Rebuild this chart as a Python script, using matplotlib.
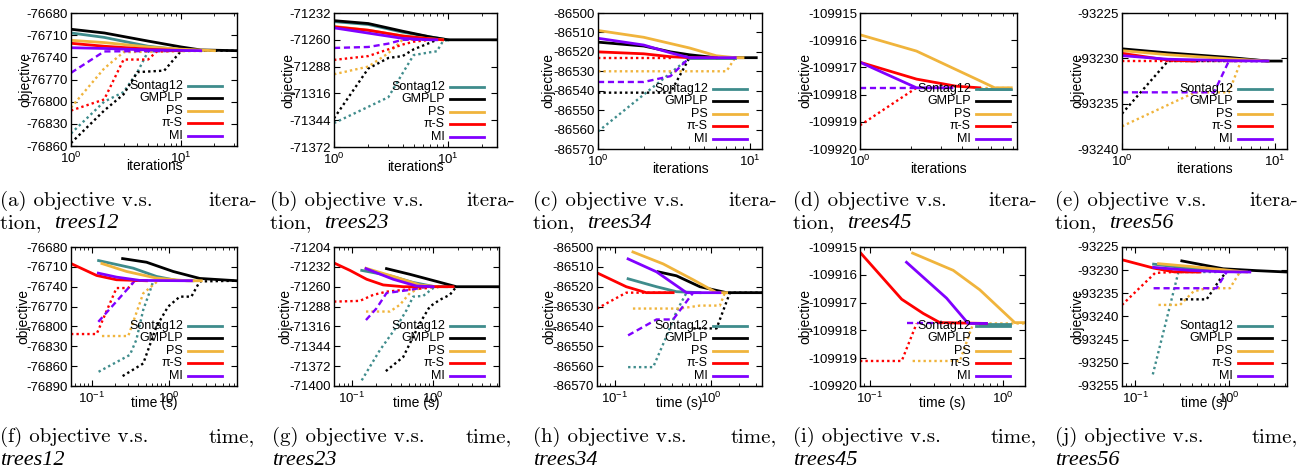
import matplotlib
matplotlib.use("Agg")
import matplotlib.pyplot as plt
from matplotlib.ticker import NullFormatter

plt.rcParams['font.family'] = ['Liberation Sans', 'DejaVu Sans']
plt.rcParams['axes.unicode_minus'] = False

methods = ["Sontag12", "GMPLP", "PS", "π-S", "MI"]
colors = ["#3f8c8c", "#000000", "#f0b43c", "#ff0000", "#8000ff"]

# (a) trees12, objective vs iterations
a_upper = {
    "Sontag12": ([1, 2, 5, 10, 15], [-76707, -76713, -76725, -76730, -76731]),
    "GMPLP": ([1, 2, 5, 10, 15, 32], [-76702, -76707, -76718, -76726, -76730, -76731]),
    "PS": ([1, 2, 5, 10, 20], [-76717, -76720, -76726, -76729, -76731]),
    "π-S": ([1, 2, 5, 10], [-76721, -76725, -76729, -76731]),
    "MI": ([1, 2, 5, 15], [-76727, -76728, -76730, -76731]),
}
a_lower = {
    "Sontag12": ([1, 2, 3, 4, 5, 10], [-76843, -76800, -76787, -76760, -76732, -76731]),
    "GMPLP": ([1, 2, 3, 4, 7, 10, 32], [-76856, -76812, -76790, -76760, -76758, -76731, -76731]),
    "PS": ([1, 2, 3, 20], [-76808, -76755, -76733, -76731]),
    "π-S": ([1, 2, 3, 5, 6, 10], [-76812, -76797, -76743, -76743, -76732, -76731]),
    "MI": ([1, 2, 15], [-76761, -76732, -76731]),
}

# (b) trees23, objective vs iterations
b_upper = {
    "Sontag12": ([1, 2, 4, 7, 10], [-71241, -71244, -71252, -71257, -71260]),
    "GMPLP": ([1, 2, 4, 7, 10, 27], [-71240, -71243, -71251, -71257, -71260, -71260]),
    "PS": ([1, 2, 4, 7, 9], [-71246, -71250, -71256, -71259, -71260]),
    "π-S": ([1, 2, 4, 7, 9], [-71246.5, -71250, -71256, -71259, -71260]),
    "MI": ([1, 2, 4, 7, 8], [-71247.5, -71253, -71258.5, -71260, -71260]),
}
b_lower = {
    "Sontag12": ([1, 2, 3, 4, 5, 7, 8, 9, 10], [-71347, -71330, -71320, -71295, -71276, -71273, -71272, -71262, -71260]),
    "GMPLP": ([1, 2, 3, 4, 5, 7, 8], [-71342, -71290, -71279, -71277, -71270, -71263, -71260]),
    "PS": ([1, 2, 3, 4, 8], [-71296, -71288, -71274, -71260, -71260]),
    "π-S": ([1, 2, 3, 4, 5, 7], [-71281, -71277, -71270, -71265, -71262, -71260]),
    "MI": ([1, 2, 3, 4, 8], [-71268.5, -71267.5, -71264, -71260, -71260]),
}

# (c) trees34, objective vs iterations
c_upper = {
    "Sontag12": ([4, 8], [-86523, -86523]),
    "GMPLP": ([1, 2, 3, 4, 6, 11], [-86515, -86517, -86520, -86521.5, -86523, -86523]),
    "PS": ([1, 2, 4, 6, 8, 9], [-86509, -86512.5, -86518, -86522, -86523, -86523]),
    "π-S": ([1, 2, 3, 4, 6], [-86520, -86521, -86522.5, -86523, -86523]),
    "MI": ([1, 2, 3, 4, 8], [-86513, -86516.5, -86520.5, -86523, -86523]),
}
c_lower = {
    "Sontag12": ([1, 4], [-86561, -86523]),
    "GMPLP": ([1, 3, 4], [-86541, -86541, -86523]),
    "PS": ([1, 7, 8], [-86530, -86530, -86523]),
    "π-S": ([1, 3], [-86523, -86523]),
    "MI": ([1, 2, 3, 4], [-86535.5, -86535.5, -86532.5, -86523]),
}

# (d) trees45, objective vs iterations
d_upper = {
    "Sontag12": ([5.1, 7.86], [-109917.78, -109917.78]),
    "GMPLP": ([], []),
    "PS": ([1, 2.16, 5.0, 6.27, 7.86], [-109915.8, -109916.4, -109917.46, -109917.75, -109917.75]),
    "π-S": ([1, 2.16, 3.7, 5.1], [-109916.81, -109917.43, -109917.69, -109917.75]),
    "MI": ([1, 2.16, 3.5], [-109916.81, -109917.75, -109917.75]),
}
d_lower = {
    "Sontag12": ([], []),
    "GMPLP": ([], []),
    "PS": ([5.1, 7.86], [-109917.75, -109917.75]),
    "π-S": ([1, 2.16], [-109919.13, -109917.75]),
    "MI": ([1, 2.16], [-109917.75, -109917.75]),
}

# (e) trees56, objective vs iterations
e_upper = {
    "Sontag12": ([1, 2, 5, 9], [-93229.05, -93229.5, -93230, -93230.3]),
    "GMPLP": ([1, 2, 5, 9, 11], [-93228.95, -93229.4, -93229.9, -93230.3, -93230.3]),
    "PS": ([1, 2, 5, 9], [-93229.15, -93229.6, -93230.05, -93230.3]),
    "π-S": ([1, 2, 3], [-93229.45, -93230.2, -93230.3]),
    "MI": ([1, 2, 5, 9], [-93229.7, -93230.1, -93230.25, -93230.3]),
}
e_lower = {
    "Sontag12": ([], []),
    "GMPLP": ([1, 2, 9], [-93236.1, -93230.3, -93230.3]),
    "PS": ([1, 3, 5, 6], [-93237.5, -93233.75, -93233.75, -93230.3]),
    "π-S": ([1, 6], [-93230.3, -93230.3]),
    "MI": ([1, 4, 5, 9], [-93233.75, -93233.75, -93230.3, -93230.3]),
}

# (f) trees12, objective vs time
f_upper = {
    "Sontag12": ([0.123, 0.346, 0.693, 1.26, 2.06], [-76700.5, -76712, -76724.5, -76730.5, -76731]),
    "GMPLP": ([0.252, 0.514, 1.14, 2.52, 7.65], [-76697.5, -76703, -76717, -76727.5, -76731]),
    "PS": ([0.136, 0.284, 0.693, 1.69, 2.64], [-76705, -76717, -76727, -76731, -76731]),
    "π-S": ([0.054, 0.116, 0.21, 0.514], [-76705, -76723, -76729.5, -76731]),
    "MI": ([0.122, 0.21, 0.422, 1.96], [-76719.5, -76725.5, -76730.5, -76731]),
}
f_lower = {
    "Sontag12": ([0.123, 0.313, 0.38, 0.466, 0.568, 0.627], [-76868.5, -76843, -76820, -76775, -76747, -76732]),
    "GMPLP": ([0.252, 0.466, 0.693, 0.98, 1.39, 1.96, 2.52, 7.65], [-76875, -76856, -76800, -76770, -76755, -76755, -76732, -76731]),
    "PS": ([0.136, 0.298, 0.466, 0.728, 2.64], [-76814.5, -76814.5, -76750, -76731, -76731]),
    "π-S": ([0.054, 0.116, 0.21, 0.298, 0.363, 0.514], [-76811.5, -76811.5, -76742, -76742, -76731, -76731]),
    "MI": ([0.122, 0.363, 0.514], [-76793, -76731, -76731]),
}

# (g) trees23, objective vs time
g_upper = {
    "Sontag12": ([0.133, 0.295, 0.569, 1.0, 1.456], [-71237, -71244.5, -71254, -71259.5, -71260]),
    "GMPLP": ([0.268, 0.518, 1.1, 1.93, 6.43], [-71234.5, -71242.5, -71252.5, -71260, -71260]),
    "PS": ([0.15, 0.324, 0.687, 1.1], [-71234, -71245.5, -71257.5, -71260]),
    "π-S": ([0.0608, 0.0955, 0.153, 0.244, 0.43, 1.757], [-71226.5, -71237, -71249.5, -71257.5, -71260, -71260]),
    "MI": ([0.15, 0.324, 0.625, 1.0], [-71234.5, -71249.5, -71259, -71260]),
}
g_lower = {
    "Sontag12": ([0.133, 0.222, 0.356, 0.472, 0.569, 0.755, 1.0, 1.207], [-71392, -71349.5, -71316.5, -71293, -71274, -71273, -71262, -71260]),
    "GMPLP": ([0.263, 0.43, 0.687, 0.91, 1.207, 1.6, 1.93], [-71379, -71359, -71311.5, -71288, -71278.5, -71271.5, -71260]),
    "PS": ([0.15, 0.295, 0.391, 0.518, 0.687, 0.829], [-71295, -71295, -71285.5, -71269, -71262, -71260]),
    "π-S": ([0.0608, 0.126, 0.184, 0.268, 0.43, 0.829, 1.0], [-71281, -71280, -71271.5, -71267, -71264.5, -71262, -71260]),
    "MI": ([0.15, 0.202, 0.268, 0.356, 0.518, 0.829], [-71307, -71290.5, -71269, -71267, -71264.5, -71260]),
}

# (h) trees34, objective vs time
h_upper = {
    "Sontag12": ([0.138, 0.273, 0.441, 0.774], [-86516, -86520, -86522.5, -86523]),
    "GMPLP": ([0.284, 0.441, 0.774, 1.47, 3.44], [-86512.5, -86514.5, -86520, -86523, -86523]),
    "PS": ([0.155, 0.32, 0.659, 1.155, 1.47], [-86502.5, -86508.5, -86516.5, -86523, -86523]),
    "π-S": ([0.0654, 0.132, 0.214, 0.407], [-86513, -86520, -86523, -86523]),
    "MI": ([0.138, 0.273, 0.561, 1.252], [-86506, -86512.5, -86523, -86523]),
}
h_lower = {
    "Sontag12": ([0.138, 0.252, 0.347, 0.441, 0.561], [-86560.5, -86560.5, -86545, -86532.5, -86523]),
    "GMPLP": ([0.66, 1.155, 1.592, 3.44], [-86541, -86541, -86523, -86523]),
    "PS": ([0.155, 0.478, 0.774, 1.252, 1.412], [-86531, -86531, -86529.5, -86529.5, -86523]),
    "π-S": ([0.0654, 0.132, 0.407], [-86531, -86523, -86523]),
    "MI": ([0.138, 0.273, 0.407, 0.659], [-86544.5, -86536.5, -86536.5, -86523]),
}

# (i) trees45, objective vs time
i_upper = {
    "Sontag12": ([0.668, 1.122], [-109917.77, -109917.77]),
    "GMPLP": ([], []),
    "PS": ([0.209, 0.422, 0.668, 1.223, 1.463], [-109915.22, -109915.84, -109916.54, -109917.72, -109917.72]),
    "π-S": ([0.0841, 0.173, 0.251, 0.335, 0.75], [-109915.19, -109916.88, -109917.39, -109917.72, -109917.75]),
    "MI": ([0.188, 0.376, 0.546, 0.75], [-109915.55, -109916.84, -109917.75, -109917.75]),
}
i_lower = {
    "Sontag12": ([], []),
    "GMPLP": ([], []),
    "PS": ([0.209, 0.473, 0.596, 1.463], [-109919.1, -109919.1, -109917.75, -109917.75]),
    "π-S": ([0.0841, 0.173, 0.224], [-109919.1, -109919.1, -109917.75]),
    "MI": ([0.188, 0.531], [-109917.72, -109917.72]),
}

# (j) trees56, objective vs time
j_upper = {
    "Sontag12": ([0.157, 0.355, 1.309], [-93228.7, -93229.55, -93230.4]),
    "GMPLP": ([0.314, 0.87, 1.968, 4.17], [-93228, -93229.7, -93230.1, -93230.4]),
    "PS": ([0.177, 0.385, 1.541], [-93228.6, -93229.2, -93230.4]),
    "π-S": ([0.0722, 0.157, 0.256, 0.491], [-93227.75, -93229.55, -93230.35, -93230.4]),
    "MI": ([0.157, 0.385, 0.87, 1.672], [-93229.4, -93230.05, -93230.35, -93230.4]),
}
j_lower = {
    "Sontag12": ([0.154, 0.289, 0.739], [-93252.5, -93230.4, -93230.4]),
    "GMPLP": ([0.301, 0.578, 0.802, 0.944], [-93236.3, -93236.3, -93232, -93230.4]),
    "PS": ([0.177, 0.301, 0.418, 0.578, 1.025, 1.309], [-93237.5, -93237.5, -93234.6, -93233.9, -93233.9, -93230.4]),
    "π-S": ([0.0722, 0.163, 0.256, 0.491], [-93237.5, -93230.6, -93230.4, -93230.4]),
    "MI": ([0.157, 0.739, 0.944], [-93233.9, -93233.9, -93230.4]),
}

# panel layout: data, x range, y range/step, box in px (left, top, right, bottom)
panels = [
    ("a", "trees12", a_upper, a_lower, (1, 32), (-76860, -76680, 30), (71, 13, 237, 146), 25, (0, 257), 15),
    ("b", "trees23", b_upper, b_lower, (1, 27), (-71372, -71232, 28), (334, 13, 497, 147), 288, (270, 515), 13),
    ("c", "trees34", c_upper, c_lower, (1, 12), (-86570, -86500, 10), (598, 13, 762, 149), 548, (533, 777), 15),
    ("d", "trees45", d_upper, d_lower, (1, 8.5), (-109920, -109915, 1), (860, 13, 1017, 149), 805, (793, 1037), 7),
    ("e", "trees56", e_upper, e_lower, (1, 12), (-93240, -93225, 5), (1122, 13, 1287, 149), 1077, (1055, 1298), 15),
    ("f", "trees12", f_upper, f_lower, (0.054, 7.65), (-76890, -76680, 30), (71, 247, 237, 386), 23, (0, 255), 15),
    ("g", "trees23", g_upper, g_lower, (0.0608, 6.43), (-71400, -71204, 28), (334, 247, 499, 386), 285, (272, 512), 15),
    ("h", "trees34", h_upper, h_lower, (0.0654, 3.44), (-86570, -86500, 10), (597, 247, 762, 386), 549, (533, 777), 15),
    ("i", "trees45", i_upper, i_lower, (0.0841, 1.46), (-109920, -109915, 1), (860, 247, 1025, 386), 805, (793, 1037), 15),
    ("j", "trees56", j_upper, j_lower, (0.0722, 4.17), (-93255, -93225, 5), (1122, 247, 1287, 386), 1077, (1055, 1298), 15),
]

W, H = 1315, 472
fig = plt.figure(figsize=(W / 100, H / 100), dpi=100)
renderer = fig.canvas.get_renderer()
ital = dict(family='Liberation Serif', style='italic', fontsize=16, va='baseline')

for idx, (letter, name, upper, lower, xlim, yinfo, box, ylab_x, capx, legr) in enumerate(panels):
    l, t, r, b = box
    w, h = r - l, b - t
    ax = fig.add_axes([l / W, 1 - b / H, w / W, h / H])
    ax.set_xscale('log')

    for m, c in zip(methods, colors):
        xs, ys = lower[m]
        style = (0, (2.6, 1.6)) if m == "MI" else (0, (1, 1.3))
        ax.plot(xs, ys, color=c, lw=1.7, linestyle=style)
    for m, c in zip(methods, colors):
        xs, ys = upper[m]
        ax.plot(xs, ys, color=c, lw=2)

    ax.set_xlim(*xlim)
    y0, y1, step = yinfo
    ax.set_ylim(y0, y1)
    ticks = list(range(y0, y1 + 1, step))
    ax.set_yticks(ticks)
    ax.set_yticklabels([str(v) for v in ticks])
    ax.xaxis.set_minor_formatter(NullFormatter())
    ax.tick_params(which='both', direction='in', top=True, right=True)
    ax.tick_params(which='major', length=4, width=0.8, labelsize=9.5)
    ax.tick_params(which='minor', length=2, width=0.6)
    ax.tick_params(axis='y', pad=2)
    ax.tick_params(axis='x', pad=3.5)
    for s in ax.spines.values():
        s.set_linewidth(1.0)

    top_row = idx < 5
    ax.set_xlabel("iterations" if top_row else "time (s)", fontsize=10, va='center')
    ax.xaxis.set_label_coords(0.5, -(20 if top_row else 17) / h)
    ax.set_ylabel("objective", fontsize=10, va='center')
    ax.yaxis.set_label_coords((ylab_x - l) / w, 0.5)

    # legend: label on the left, line sample on the right
    hx1 = 1 - legr / w
    hx0 = hx1 - 34 / w
    for k, (m, c) in enumerate(zip(methods, colors)):
        yy = (10 + (4 - k) * 12.6) / h
        ax.plot([hx0, hx1], [yy, yy], transform=ax.transAxes, color=c, lw=2, clip_on=False)
        ax.text(hx0 - 5 / w, yy, m, transform=ax.transAxes, ha='right', va='center', fontsize=9)

    # caption under the panel
    x0, x1 = capx
    base1 = 205.7 if top_row else 441.7
    base2 = 228 if top_row else 465
    fig.text(x0 / W, 1 - base1 / H, "(%s) objective v.s." % letter, family='cmr10',
             fontsize=15, va='baseline', ha='left')
    fig.text(x1 / W, 1 - base1 / H, "itera-" if top_row else "time,", family='cmr10',
             fontsize=15, va='baseline', ha='right')
    if top_row:
        t1 = fig.text(x0 / W, 1 - base2 / H, "tion, ", family='cmr10', fontsize=15, va='baseline')
        ext = t1.get_window_extent(renderer)
        fig.text((ext.x1 + 6) / W, 1 - base2 / H, name, **ital)
    else:
        fig.text(x0 / W, 1 - base2 / H, name, **ital)

fig.savefig("out.png", dpi=100)
